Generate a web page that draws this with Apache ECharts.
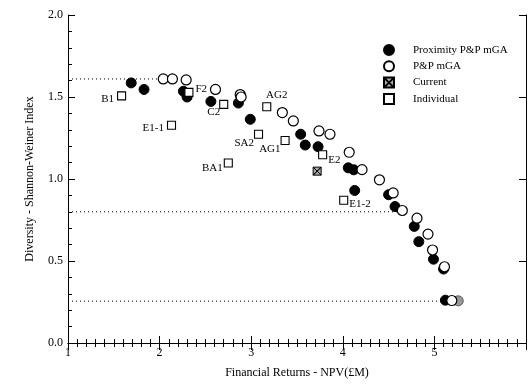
<!DOCTYPE html>
<html><head><meta charset="utf-8">
<script src="https://cdn.jsdelivr.net/npm/echarts@6/dist/echarts.min.js"></script>
<style>html,body{margin:0;padding:0;background:#fff}#c{width:529px;height:384px}</style>
</head><body><div id="c"></div>
<script>
// ---- data ----
const proximityX = [1.69,1.83,2.26,2.30,2.56,2.86,2.99,3.54,3.59,3.73,4.06,4.12,4.13,4.50,4.57,4.78,4.83,4.99,5.10,5.12];
const proximityY = [1.586,1.546,1.535,1.50,1.473,1.463,1.364,1.273,1.207,1.197,1.068,1.056,0.93,0.904,0.832,0.711,0.618,0.511,0.451,0.261];
const ppX = [2.04,2.14,2.29,2.61,2.88,2.89,3.34,3.46,3.74,3.86,4.07,4.21,4.40,4.55,4.65,4.81,4.93,4.98,5.11,5.19];
const ppY = [1.61,1.61,1.604,1.546,1.515,1.50,1.405,1.354,1.293,1.273,1.163,1.057,0.995,0.915,0.808,0.761,0.664,0.567,0.465,0.259];
const greyX = [5.26];
const greyY = [0.257];
const currentX = [3.72];
const currentY = [1.048];
const indivNames = ['B1','F2','C2','E1-1','AG2','SA2','AG1','BA1','E2','E1-2'];
const indivX = [1.585,2.32,2.70,2.13,3.17,3.08,3.37,2.75,3.78,4.01];
const indivY = [1.507,1.528,1.455,1.328,1.441,1.273,1.235,1.098,1.148,0.87];
const refLevels = [1.61,0.80,0.255];
const refEnds = [2.04,4.62,5.08];
const xTickLabels = ['1','2','3','4','5'];
const yTickLabels = ['0.0','0.5','1.0','1.5','2.0'];

// ---- styling (not data) ----
const labelPlacement = {
  'B1':['left',[0,3]], 'F2':['right',[-1,-3]], 'C2':['left',[4,8]], 'E1-1':['left',[0,3]],
  'AG2':['top',[10,1]], 'SA2':['left',[3,9]], 'AG1':['left',[3,9]], 'BA1':['left',[2,5]],
  'E2':['right',[-2,5]], 'E1-2':['right',[-2,4]]
};
const FONT = '"Liberation Serif","Times New Roman",serif';
const zip = (xs, ys) => xs.map((x,i)=>[x, ys[i]]);
const tickCommon = {
  axisLine:{show:true, lineStyle:{color:'#000', width:1}},
  axisTick:{show:true, inside:true, length:7, lineStyle:{color:'#000'}},
  splitLine:{show:false}
};
const crossSq = 'path://M0,0L10,0L10,10L0,10Z M0,0L10,10L0,0Z M10,0L0,10L10,0Z';
const square = 'path://M0,0L10,0L10,10L0,10Z';

const series = [];
refLevels.forEach((lv,i)=>{
  series.push({type:'line', data:[[1,lv],[refEnds[i],lv]], symbol:'none', silent:true,
    lineStyle:{color:'#000', width:1, type:[1,3]}, z:1});
});
series.push({name:'Proximity P&P mGA', type:'scatter', data:zip(proximityX,proximityY), symbol:'circle', symbolSize:10,
  itemStyle:{color:'#000', borderColor:'#000', borderWidth:1, opacity:1}, z:3});
series.push({name:'P&P mGA', type:'scatter', data:zip(ppX,ppY), symbol:'circle', symbolSize:10,
  itemStyle:{color:'#fff', borderColor:'#000', borderWidth:1.2, opacity:1}, z:4});
series.push({name:'grey', type:'scatter', data:zip(greyX,greyY), symbol:'circle', symbolSize:10,
  itemStyle:{color:'#999', borderColor:'#555', borderWidth:1, opacity:1}, z:2});
series.push({name:'Current', type:'scatter', data:zip(currentX,currentY), symbol:crossSq, symbolSize:8,
  itemStyle:{color:'#aaa', borderColor:'#000', borderWidth:1, opacity:1}, z:5});
series.push({name:'Individual', type:'scatter', symbol:square, symbolSize:8,
  itemStyle:{color:'#fff', borderColor:'#000', borderWidth:1.1, opacity:1}, z:5,
  data: indivNames.map((n,i)=>({value:[indivX[i], indivY[i]], name:n,
    label:{show:true, formatter:n, position:labelPlacement[n][0], offset:labelPlacement[n][1], distance:3,
      color:'#000', fontFamily:FONT, fontSize:11}}))
});

const chart = echarts.init(document.getElementById('c'), null, {renderer:'canvas'});
chart.setOption({
  animation:false,
  backgroundColor:'#fff',
  grid:{left:68, right:-5, top:15, bottom:38.5, containLabel:false},
  legend:{
    orient:'vertical', left:378, top:39, itemWidth:38, itemHeight:10, itemGap:4.3,
    data:[
      {name:'Proximity P&P mGA', icon:'circle'},
      {name:'P&P mGA', icon:'circle'},
      {name:'Current', icon:crossSq},
      {name:'Individual', icon:square, itemStyle:{borderWidth:2}}
    ],
    textStyle:{fontFamily:FONT, fontSize:11, color:'#000'},
    selectedMode:false
  },
  xAxis:[
    Object.assign({type:'value', min:1, max:6, interval:1, position:'bottom',
      minorTick:{show:true, splitNumber:10, length:4, lineStyle:{color:'#000'}},
      axisLabel:{show:true, color:'#000', fontFamily:FONT, fontSize:12, margin:4,
        formatter:(v)=>{const i=Math.round(v)-1; return xTickLabels[i] !== undefined ? xTickLabels[i] : '';}},
      name:'Financial Returns - NPV(£M)', nameLocation:'middle', nameGap:24,
      nameTextStyle:{fontFamily:FONT, fontSize:12, color:'#000'}}, tickCommon),
    Object.assign({type:'value', min:1, max:6, interval:1, position:'top',
      minorTick:{show:true, splitNumber:10, length:4, lineStyle:{color:'#000'}},
      axisLabel:{show:false}}, tickCommon)
  ],
  yAxis:[
    Object.assign({type:'value', min:0, max:2, interval:0.5, position:'left',
      minorTick:{show:true, splitNumber:5, length:4, lineStyle:{color:'#000'}},
      axisLabel:{show:true, color:'#000', fontFamily:FONT, fontSize:12, margin:5,
        formatter:(v)=>{const i=Math.round(v*2); return yTickLabels[i] !== undefined ? yTickLabels[i] : '';}},
      name:'Diversity - Shannon-Weiner Index', nameLocation:'middle', nameGap:32,
      nameTextStyle:{fontFamily:FONT, fontSize:12, color:'#000'}}, tickCommon),
    Object.assign({type:'value', min:0, max:2, interval:0.5, position:'right',
      axisLabel:{show:false}}, tickCommon)
  ],
  series: series
});
</script>
</body></html>
